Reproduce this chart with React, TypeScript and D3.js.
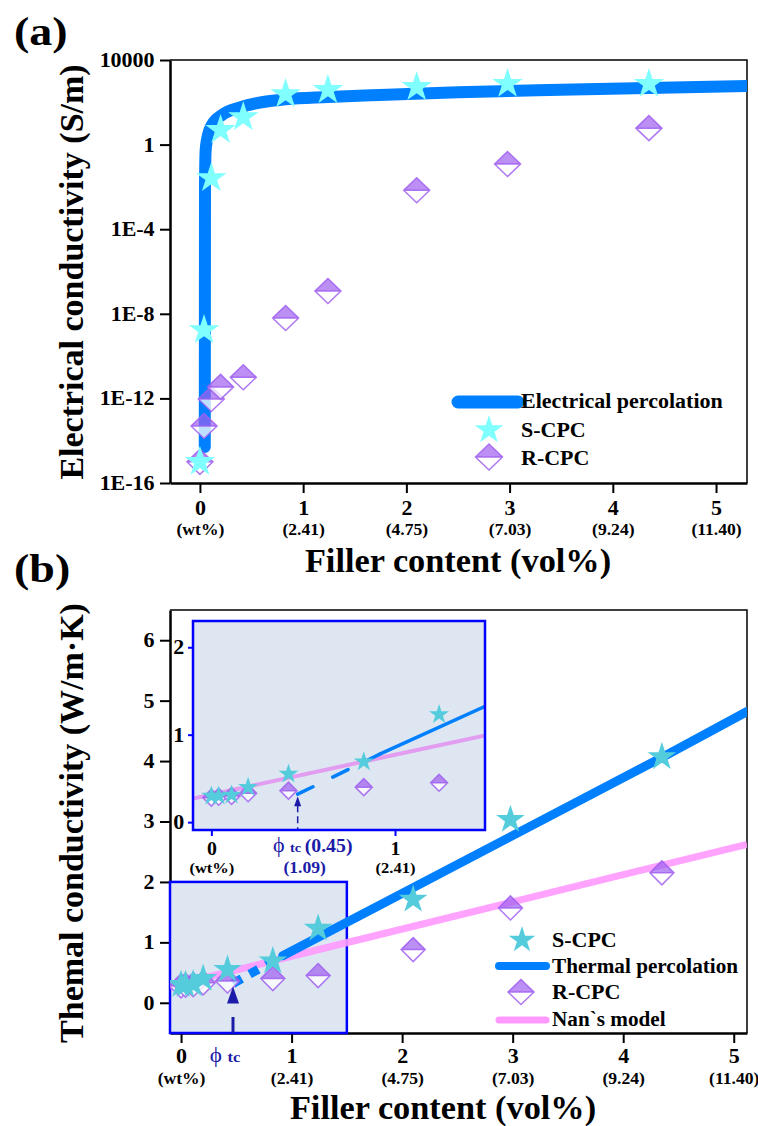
import React, { useEffect, useRef } from 'react';
import * as d3 from 'd3';

// filler content (vol%), same loadings in both panels
const fillerVol = [0, 0.04, 0.11, 0.2, 0.42, 0.83, 1.24, 2.1, 2.98, 4.35];

// (a) electrical conductivity, S/m
const sCpcElec = [1e-15, 1.7e-9, 0.026, 4.9, 20, 245, 380, 525, 740, 740];
const rCpcElec = [1e-15, 5e-14, 9.3e-13, 3.5e-12, 1e-11, 6.3e-9, 1.2e-7, 7e-3, 0.12, 6];

// electrical percolation curve
const elecFitX = [0.047, 0.048, 0.049, 0.055, 0.068, 0.116, 0.213, 0.39, 0.83, 1.24, 1.74, 2.5, 3.5, 4.35, 5.3];
const elecFitY = [5e-15, 1e-8, 0.01, 0.5, 1.66, 8.5, 25, 58, 138, 178, 224, 295, 389, 479, 589];

// (b) thermal conductivity, W/m·K
const sCpcTherm = [0.3, 0.3, 0.31, 0.4, 0.55, 0.69, 1.23, 1.71, 3.03, 4.07];
const rCpcTherm = [0.28, 0.29, 0.3, 0.33, 0.36, 0.4, 0.45, 0.88, 1.57, 2.15];

// thermal percolation (dashed up to the 2nd point) and Nan's model
const thermFitX = [0.47, 0.92, 1.8, 2.93, 4.35, 5.12];
const thermFitY = [0.32, 0.78, 1.62, 2.7, 4.06, 4.82];
const nanX = [-0.1, 1, 1.8, 3, 4, 5.12];
const nanY = [0.27, 0.77, 1.13, 1.67, 2.12, 2.62];

const phiTc = 0.47;

const xTicks = [0, 1, 2, 3, 4, 5];
const wtLabels = ['(wt%)', '(2.41)', '(4.75)', '(7.03)', '(9.24)', '(11.40)'];
const elecTicks = [1e-16, 1e-12, 1e-8, 1e-4, 1, 1e4];
const elecTickLabels = ['1E-16', '1E-12', '1E-8', '1E-4', '1', '10000'];
const thermTicks = [0, 1, 2, 3, 4, 5, 6];
const insetYTicks = [0, 1, 2];
const insetXTicks = [0, 1];
const insetWtLabels = ['(wt%)', '(2.41)'];

const FONT = 'Liberation Serif, DejaVu Serif, serif';
const BLUE = '#0080FF';
const NAVY = '#1C1CA8';
const BOXBLUE = '#0000FF';
const BOXFILL = '#DDE6F1';
const PURPLE = '#A060F0';
const SX = 1.1; // the original lettering is a bit wide

function star(g, x, y, r, color) {
  g.append('path')
    .attr('d', d3.symbol().type(d3.symbolStar).size(r * r / 0.8908)())
    .attr('transform', 'translate(' + x + ',' + y + ')')
    .attr('fill', color);
}

function diamond(g, x, y, w, h) {
  const d = g.append('g').attr('transform', 'translate(' + x + ',' + y + ')');
  d.append('path').attr('d', `M${-w},0L0,${h}L${w},0Z`)
    .attr('fill', '#fff').attr('fill-opacity', 0.75);
  d.append('path').attr('d', `M${-w},0L0,${-h}L${w},0Z`)
    .attr('fill', PURPLE).attr('fill-opacity', 0.7);
  d.append('path').attr('d', `M${-w},0L0,${-h}L${w},0L0,${h}Z M${-w},0L${w},0`)
    .attr('fill', 'none').attr('stroke', PURPLE)
    .attr('stroke-width', 1.5).attr('stroke-opacity', 0.85);
}

function styleAxis(a, size) {
  a.attr('font-family', FONT).attr('font-size', size).attr('font-weight', 'bold');
  a.select('.domain').attr('stroke-width', 2.5);
  a.selectAll('.tick line').attr('stroke-width', 2);
  a.selectAll('.tick text').attr('fill', '#000').attr('transform', `scale(${SX},1)`);
}

function label(g, x, y, txt, size, opts: any = {}) {
  const sx = opts.sx || SX;
  return g.append('text')
    .attr('transform', `translate(${x},${y})` + (opts.rotate ? ' rotate(-90)' : '') + ` scale(${sx},1)`)
    .style('font-family', FONT).attr('font-size', size)
    .attr('font-weight', opts.weight || 'bold')
    .attr('fill', opts.color || '#000')
    .attr('text-anchor', opts.anchor || 'start')
    .text(txt);
}

function drawElectrical(g) {
  const x = d3.scaleLinear().domain([-0.29, 5.3]).range([170, 747]);
  const y = d3.scaleLog().domain([1e-16, 1e4]).range([483, 60]);

  g.append('defs').append('clipPath').attr('id', 'clipA')
    .append('rect').attr('x', 170).attr('y', 60).attr('width', 577).attr('height', 423);

  label(g, 14, 45, '(a)', 40, { sx: 1.15 });

  g.append('path').attr('d', 'M170,60H747V483')
    .attr('fill', 'none').attr('stroke', '#000').attr('stroke-width', 1.5);

  const yAxis = d3.axisLeft(y).tickValues(elecTicks)
    .tickFormat((d, i) => elecTickLabels[i]).tickSize(10).tickPadding(4).tickSizeOuter(0);
  styleAxis(g.append('g').attr('transform', 'translate(170,0)').call(yAxis), 20);

  const xAxis = d3.axisBottom(x).tickValues(xTicks)
    .tickFormat(d => String(d)).tickSize(10).tickPadding(8).tickSizeOuter(0);
  const xa = g.append('g').attr('transform', 'translate(0,483)').call(xAxis);
  xa.selectAll('.tick').append('text')
    .attr('y', 52).attr('font-size', 16)
    .text((d, i) => wtLabels[i]);
  styleAxis(xa, 20);

  label(g, 458, 572, 'Filler content (vol%)', 33, { anchor: 'middle', sx: 1.04 });
  label(g, 83, 272, 'Electrical conductivity (S/m)', 33, { anchor: 'middle', rotate: true, sx: 1.03 });

  const line = d3.line<number>()
    .x((d, i) => x(elecFitX[i])).y(d => y(d)).curve(d3.curveMonotoneX);
  g.append('path').datum(elecFitY).attr('d', line).attr('clip-path', 'url(#clipA)')
    .attr('fill', 'none').attr('stroke', BLUE).attr('stroke-width', 12)
    .attr('stroke-linecap', 'round').attr('stroke-linejoin', 'round');

  rCpcElec.forEach((v, i) => diamond(g, x(fillerVol[i]), y(v), 13, 12.5));
  sCpcElec.forEach((v, i) => star(g, x(fillerVol[i]), y(v), 16, '#80FFFF'));

  // legend
  g.append('line').attr('x1', 458).attr('x2', 518).attr('y1', 402).attr('y2', 402)
    .attr('stroke', BLUE).attr('stroke-width', 13).attr('stroke-linecap', 'round');
  label(g, 521, 408, 'Electrical percolation', 20);
  star(g, 489, 430, 15, '#80FFFF');
  label(g, 521, 437, 'S-CPC', 20);
  diamond(g, 489, 457, 13.5, 13);
  label(g, 521, 465, 'R-CPC', 20);
}

function drawThermal(g) {
  const x = d3.scaleLinear().domain([-0.1, 5.12]).range([170, 747]);
  const y = d3.scaleLinear().domain([-0.5, 6.5]).range([1033, 610]);

  g.append('defs').append('clipPath').attr('id', 'clipB')
    .append('rect').attr('x', 170).attr('y', 610).attr('width', 577).attr('height', 423);

  label(g, 14, 582, '(b)', 40, { sx: 1.15 });

  g.append('path').attr('d', 'M170,610H747V1033')
    .attr('fill', 'none').attr('stroke', '#000').attr('stroke-width', 1.5);

  const yAxis = d3.axisLeft(y).tickValues(thermTicks)
    .tickFormat(d => String(d)).tickSize(10).tickPadding(4).tickSizeOuter(0);
  styleAxis(g.append('g').attr('transform', 'translate(170,0)').call(yAxis), 20);

  const xAxis = d3.axisBottom(x).tickValues(xTicks)
    .tickFormat(d => String(d)).tickSize(10).tickPadding(6).tickSizeOuter(0);
  const xa = g.append('g').attr('transform', 'translate(0,1033)').call(xAxis);
  xa.selectAll('.tick').append('text')
    .attr('y', 51).attr('font-size', 16)
    .text((d, i) => wtLabels[i]);
  styleAxis(xa, 20);

  const phiLab = g.append('text')
    .attr('transform', `translate(${x(phiTc) - 8},1062) scale(${SX},1)`)
    .style('font-family', FONT).attr('fill', NAVY).attr('text-anchor', 'middle');
  phiLab.append('tspan').attr('font-size', 21).text('ϕ ');
  phiLab.append('tspan').attr('font-size', 15).attr('font-weight', 'bold').text('tc');

  label(g, 443, 1119, 'Filler content (vol%)', 33, { anchor: 'middle', sx: 1.04 });
  label(g, 83, 823, 'Themal conductivity (W/m·K)', 33, { anchor: 'middle', rotate: true, sx: 1.03 });

  // zoom box
  g.append('rect')
    .attr('x', x(-0.1)).attr('y', y(2))
    .attr('width', x(1.5) - x(-0.1)).attr('height', y(-0.5) - y(2))
    .attr('fill', BOXFILL).attr('stroke', BOXBLUE).attr('stroke-width', 2.5);

  const plot = g.append('g').attr('clip-path', 'url(#clipB)');
  const nanLine = d3.line<number>().x((d, i) => x(nanX[i])).y(d => y(d));
  plot.append('path').datum(nanY).attr('d', nanLine)
    .attr('fill', 'none').attr('stroke', '#FF99FF').attr('stroke-opacity', 0.9).attr('stroke-width', 7);

  const fit = thermFitY.map((v, i) => [x(thermFitX[i]), y(v)] as [number, number]);
  const fitLine = d3.line();
  plot.append('path').attr('d', fitLine(fit.slice(0, 2)))
    .attr('fill', 'none').attr('stroke', BLUE).attr('stroke-width', 9)
    .attr('stroke-dasharray', '10,9');
  plot.append('path').attr('d', fitLine(fit.slice(1)))
    .attr('fill', 'none').attr('stroke', BLUE).attr('stroke-width', 9)
    .attr('stroke-linecap', 'round');

  rCpcTherm.forEach((v, i) => diamond(plot, x(fillerVol[i]), y(v), 12, 12));
  sCpcTherm.forEach((v, i) => star(plot, x(fillerVol[i]), y(v), 15, '#55CCDC'));

  // threshold arrow
  const ax = x(phiTc);
  const tip = y(thermFitY[0]) + 3;
  g.append('path').attr('d', `M${ax},${tip}L${ax + 6},${tip + 17}L${ax - 6},${tip + 17}Z`).attr('fill', NAVY);
  g.append('line').attr('x1', ax).attr('x2', ax).attr('y1', 1017).attr('y2', 1033)
    .attr('stroke', NAVY).attr('stroke-width', 3);

  drawInset(g);

  // legend
  star(g, 522, 940, 14, '#55CCDC');
  label(g, 552, 947, 'S-CPC', 20);
  g.append('line').attr('x1', 499).attr('x2', 546).attr('y1', 966).attr('y2', 966)
    .attr('stroke', BLUE).attr('stroke-width', 8).attr('stroke-linecap', 'round');
  label(g, 552, 973, 'Thermal percolation', 20, { sx: 1.06 });
  diamond(g, 521, 992, 13, 12.5);
  label(g, 552, 999, 'R-CPC', 20);
  g.append('line').attr('x1', 499).attr('x2', 546).attr('y1', 1020).attr('y2', 1020)
    .attr('stroke', '#FF99FF').attr('stroke-width', 7).attr('stroke-linecap', 'round');
  label(g, 552, 1026, 'Nan`s model', 20, { sx: 1.06 });
}

function drawInset(g) {
  const x = d3.scaleLinear().domain([-0.1, 1.49]).range([193, 485]);
  const y = d3.scaleLinear().domain([-0.09, 2.3]).range([830, 621]);

  g.append('defs').append('clipPath').attr('id', 'clipI')
    .append('rect').attr('x', 193).attr('y', 621).attr('width', 292).attr('height', 209);

  g.append('rect').attr('x', 193).attr('y', 621).attr('width', 292).attr('height', 209)
    .attr('fill', BOXFILL);

  const plot = g.append('g').attr('clip-path', 'url(#clipI)');
  const nanLine = d3.line<number>().x((d, i) => x(nanX[i])).y(d => y(d));
  plot.append('path').datum(nanY).attr('d', nanLine)
    .attr('fill', 'none').attr('stroke', '#E29CF0').attr('stroke-width', 4);

  const fit = thermFitY.map((v, i) => [x(thermFitX[i]), y(v)] as [number, number]);
  const fitLine = d3.line();
  plot.append('path').attr('d', fitLine(fit.slice(0, 2)))
    .attr('fill', 'none').attr('stroke', BLUE).attr('stroke-width', 3.5)
    .attr('stroke-dasharray', '17,22').attr('stroke-linecap', 'round');
  plot.append('path').attr('d', fitLine(fit.slice(1)))
    .attr('fill', 'none').attr('stroke', BLUE).attr('stroke-width', 3.5)
    .attr('stroke-linecap', 'round');

  rCpcTherm.forEach((v, i) => diamond(plot, x(fillerVol[i]), y(v), 8.5, 8.5));
  sCpcTherm.forEach((v, i) => star(plot, x(fillerVol[i]), y(v), 10.5, '#55CCDC'));

  // small threshold arrow
  const ax = x(phiTc);
  const tip = y(thermFitY[0]) + 2;
  g.append('path').attr('d', `M${ax},${tip}L${ax + 3.5},${tip + 10}L${ax - 3.5},${tip + 10}Z`).attr('fill', NAVY);
  g.append('line').attr('x1', ax).attr('x2', ax).attr('y1', tip + 9).attr('y2', 830)
    .attr('stroke', NAVY).attr('stroke-width', 1.5).attr('stroke-dasharray', '7,4');

  g.append('rect').attr('x', 193).attr('y', 621).attr('width', 292).attr('height', 209)
    .attr('fill', 'none').attr('stroke', BOXBLUE).attr('stroke-width', 2.5);

  // inset axes
  const ya = g.append('g').attr('transform', 'translate(193,0)')
    .call(d3.axisLeft(y).tickValues(insetYTicks).tickFormat(d => String(d))
      .tickSize(5).tickPadding(3).tickSizeOuter(0));
  styleAxis(ya, 20);
  ya.select('.domain').remove();
  ya.selectAll('.tick line').attr('stroke', BOXBLUE);

  const xa = g.append('g').attr('transform', 'translate(0,830)')
    .call(d3.axisBottom(x).tickValues(insetXTicks).tickFormat(d => String(d))
      .tickSize(6).tickPadding(6).tickSizeOuter(0));
  xa.selectAll('.tick').append('text')
    .attr('y', 43).attr('font-size', 15)
    .text((d, i) => insetWtLabels[i]);
  styleAxis(xa, 18);
  xa.select('.domain').remove();
  xa.selectAll('.tick line').attr('stroke', BOXBLUE);

  const phiLab = g.append('text')
    .attr('transform', `translate(${x(phiTc) + 15},852) scale(${SX},1)`)
    .style('font-family', FONT).attr('fill', NAVY).attr('text-anchor', 'middle')
    .attr('font-weight', 'bold');
  phiLab.append('tspan').attr('font-size', 20).attr('font-weight', 'normal').text('ϕ ');
  phiLab.append('tspan').attr('font-size', 13).text('tc ');
  phiLab.append('tspan').attr('font-size', 18).text('(0.45)');
  label(g, x(phiTc) + 7, 873, '(1.09)', 16, { anchor: 'middle', color: NAVY });
}

export default function App() {
  const ref = useRef<SVGSVGElement>(null);

  useEffect(() => {
    const svg = d3.select(ref.current);
    svg.selectAll('*').remove();
    drawElectrical(svg.append('g'));
    drawThermal(svg.append('g'));
  }, []);

  return (
    <svg ref={ref} width={758} height={1126}
      style={{ position: 'absolute', left: 0, top: 0, background: '#fff', fontFamily: FONT }} />
  );
}
